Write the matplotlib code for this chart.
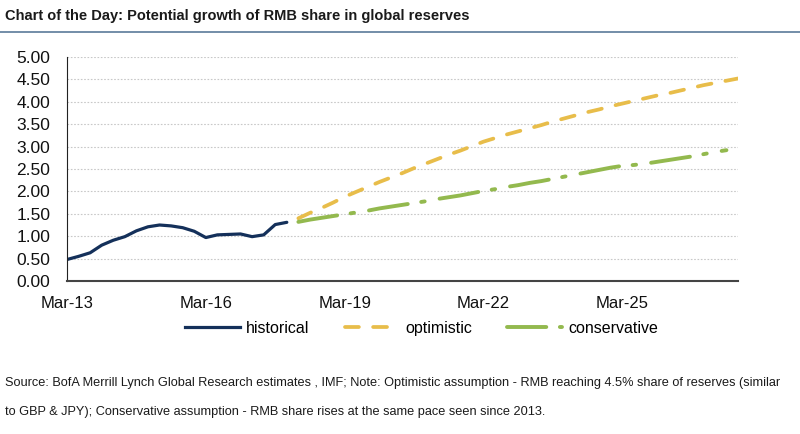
import matplotlib.pyplot as plt
import matplotlib.lines as mlines

# quarterly index: 0 = Mar-13
tick_labels = ["Mar-13", "Mar-16", "Mar-19", "Mar-22", "Mar-25"]
tick_pos = [0, 12, 24, 36, 48]

hist_x = list(range(0, 20))
historical = [0.48, 0.55, 0.63, 0.80, 0.91, 0.99, 1.12, 1.21, 1.25, 1.23,
              1.19, 1.11, 0.97, 1.03, 1.04, 1.05, 0.99, 1.03, 1.26, 1.31]

opt_x = list(range(20, 59))
optimistic = [1.40, 1.52, 1.63, 1.75, 1.88, 1.99, 2.10, 2.21, 2.31, 2.41,
              2.52, 2.62, 2.72, 2.82, 2.91, 3.01, 3.11, 3.19, 3.27, 3.34,
              3.41, 3.48, 3.56, 3.63, 3.70, 3.77, 3.83, 3.90, 3.96, 4.02,
              4.08, 4.14, 4.19, 4.25, 4.31, 4.37, 4.42, 4.47, 4.52]

cons_x = list(range(20, 58))
conservative = [1.32, 1.37, 1.41, 1.45, 1.49, 1.53, 1.57, 1.62, 1.66, 1.70,
                1.74, 1.78, 1.83, 1.87, 1.91, 1.96, 2.01, 2.05, 2.10, 2.14,
                2.19, 2.23, 2.28, 2.33, 2.38, 2.43, 2.48, 2.53, 2.57, 2.59,
                2.62, 2.66, 2.70, 2.74, 2.78, 2.83, 2.88, 2.92]

NAVY = "#14305A"
GOLD = "#E8BD4A"
GREEN = "#93B94E"
OPT_DASH = (3.7, 3.8)
CONS_DASH = (10.1, 3.5, 0.9, 3.9)

plt.rcParams["font.family"] = ["Liberation Sans", "DejaVu Sans"]

fig = plt.figure(figsize=(8, 4.34), dpi=100)
ax = fig.add_axes([0.08375, 0.3525, 0.83875, 0.5162])

ax.plot(hist_x, historical, color=NAVY, lw=2.3, solid_capstyle="round")
ax.plot(opt_x, optimistic, color=GOLD, lw=2.7, dashes=OPT_DASH, dash_capstyle="round")
ax.plot(cons_x, conservative, color=GREEN, lw=2.8, dashes=CONS_DASH,
        dash_capstyle="round")

ax.set_xlim(0, 58)
ax.set_ylim(0, 5)
ax.set_yticks([i * 0.5 for i in range(11)])
ax.set_yticklabels([f"{i * 0.5:.2f}" for i in range(11)])
ax.set_xticks(tick_pos)
ax.set_xticklabels(tick_labels)
ax.tick_params(length=0, labelsize=12, colors="#111111")
ax.tick_params(axis="y", pad=12, labelsize=12.5)
ax.tick_params(axis="x", pad=11)
ax.grid(axis="y", color="#C8C8C8", lw=0.8, ls=(0, (1.5, 1.5)))
ax.set_axisbelow(True)
for s in ["top", "right"]:
    ax.spines[s].set_visible(False)
ax.spines["left"].set_color("#222222")
ax.spines["bottom"].set_color("#444444")
ax.spines["bottom"].set_linewidth(1.5)

handles = [
    mlines.Line2D([], [], color=NAVY, lw=2.3),
    mlines.Line2D([], [], color=GOLD, lw=2.7, dashes=OPT_DASH, dash_capstyle="round"),
    mlines.Line2D([], [], color=GREEN, lw=2.8, dashes=CONS_DASH, dash_capstyle="round"),
]
fig.legend(handles, ["historical", "optimistic", "conservative"],
           loc="center", bbox_to_anchor=(0.527, 0.244), ncol=3, frameon=False,
           fontsize=11.5, handlelength=3.45, handletextpad=0.35, columnspacing=2.2)

fig.text(0.006, 0.962, "Chart of the Day: Potential growth of RMB share in global reserves",
         fontsize=10.5, fontweight="bold", color="#1a1a1a", va="center")
fig.add_artist(mlines.Line2D([0, 1], [0.927, 0.927], color="#5B7A99", lw=1.2,
                             transform=fig.transFigure))

fig.text(0.006, 0.118, "Source: BofA Merrill Lynch Global Research estimates , IMF; Note: Optimistic "
         "assumption - RMB reaching 4.5% share of reserves (similar",
         fontsize=9.2, color="#1a1a1a", va="center")
fig.text(0.006, 0.051, "to GBP & JPY); Conservative assumption - RMB share rises at the same pace seen since 2013.",
         fontsize=9.2, color="#1a1a1a", va="center")

fig.savefig("out.png", dpi=100)
